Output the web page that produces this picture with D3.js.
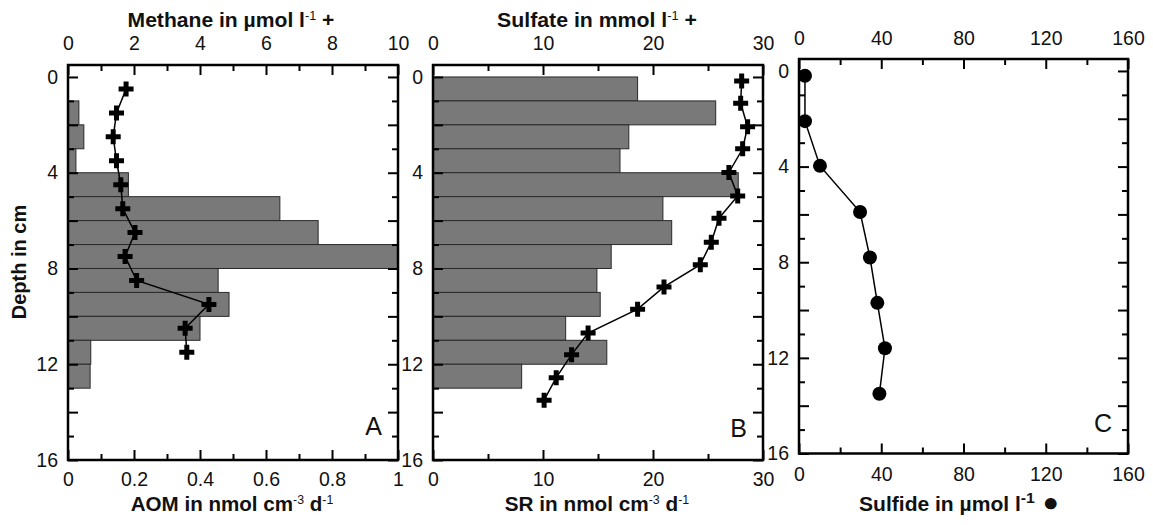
<!DOCTYPE html>
<html>
<head>
<meta charset="utf-8">
<script src="https://cdn.jsdelivr.net/npm/d3@7"></script>
<style>
  body { margin: 0; background: #fff; }
  svg { display: block; font-family: "Liberation Sans", Arial, sans-serif; }
  .tick text { font-size: 19.5px; fill: #111; }
  .tick line { stroke: #000; stroke-width: 2; }
  .title { font-size: 20px; font-weight: bold; fill: #111; }
  .letter { font-size: 25px; fill: #111; }
</style>
</head>
<body>
<div id="chart"></div>
<script>
'use strict';

// AOM rates, 1 cm slices (top of slice in cm)
var aomDepth = [1, 2, 3, 4, 5, 6, 7, 8, 9, 10, 11, 12];
var aomRate = [0.033, 0.048, 0.024, 0.183, 0.642, 0.758, 1.0, 0.455, 0.488, 0.40, 0.069, 0.067];

// methane profile
var methaneDepth = [0.5, 1.5, 2.5, 3.5, 4.5, 5.5, 6.5, 7.5, 8.5, 9.5, 10.5, 11.5];
var methane = [1.76, 1.47, 1.37, 1.47, 1.60, 1.66, 2.03, 1.73, 2.08, 4.27, 3.55, 3.60];

// sulfate reduction rates
var srDepth = [0, 1, 2, 3, 4, 5, 6, 7, 8, 9, 10, 11, 12];
var srRate = [18.6, 25.7, 17.8, 17.0, 27.75, 20.9, 21.7, 16.2, 14.9, 15.2, 12.06, 15.8, 8.06];

// sulfate profile
var sulfateDepth = [0.17, 1.1, 2.08, 3.0, 3.99, 4.97, 5.9, 6.9, 7.84, 8.77, 9.7, 10.7, 11.6, 12.56, 13.5];
var sulfate = [28.06, 27.97, 28.6, 28.15, 26.9, 27.7, 26.0, 25.3, 24.3, 21.0, 18.6, 14.1, 12.6, 11.2, 10.1];

// sulfide profile
var sulfideDepth = [0.2, 2.1, 3.97, 5.9, 7.8, 9.7, 11.6, 13.5];
var sulfide = [2.9, 2.9, 10.2, 29.7, 34.5, 38.1, 41.8, 39.1];

var W = 1153, H = 525;
var svg = d3.select('#chart').append('svg').attr('width', W).attr('height', H);

function isMult(d, s) { return Math.abs(d / s - Math.round(d / s)) < 1e-6; }

function addAxis(g, orient, scale, step, major, label, pad, fmt, showLabels) {
	var dom = scale.domain();
	var n = Math.round(dom[1] / step);
	var vals = d3.range(0, n + 1).map(function(i){ return +(i * step).toFixed(6); });
	var axis = d3[orient](scale)
		.tickValues(vals)
		.tickSizeOuter(0)
		.tickSizeInner(-10)
		.tickPadding(pad)
		.tickFormat(function(d){ return showLabels && isMult(d, label) ? fmt(d) : ''; });
	g.call(axis);
	g.select('.domain').remove();
	var attr = (orient === 'axisLeft' || orient === 'axisRight') ? 'x2' : 'y2';
	var sign = (orient === 'axisLeft' || orient === 'axisTop') ? 1 : -1;
	g.selectAll('.tick line').attr(attr, function(d){ return sign * (isMult(d, major) ? 10 : 6); });
}

// axis title, stretched sideways to the width it has in the figure
function title(cx, y, width, parts, big) {
	var g = svg.append('g');
	var t = g.append('text').attr('class', 'title').attr('text-anchor', 'middle');
	parts.forEach(function(p){
		var s = t.append('tspan').text(p.t);
		if (p.sup) {
			s.attr('dy', big ? -8 : -7).style('font-size', big ? '15px' : '12px').style('font-weight', big ? 'bold' : 'normal');
		} else if (p.down) {
			s.attr('dy', big ? 8 : 7);
		}
		if (p.size) s.style('font-size', p.size);
	});
	var w = t.node().getBBox().width;
	g.attr('transform', 'translate(' + cx + ',' + y + ') scale(' + (width / w) + ',1)');
}

function panel(cfg) {
	var x0 = cfg.left, x1 = cfg.right, y0 = cfg.top, y1 = cfg.bottom;
	var y = d3.scaleLinear().domain([-0.5, 16]).range([y0, y1]);
	var xb = d3.scaleLinear().domain(cfg.bottomDomain).range([x0, x1]);
	var xt = d3.scaleLinear().domain(cfg.topDomain).range([x0, x1]);
	var g = svg.append('g');

	if (cfg.bars) {
		g.selectAll('rect.bar').data(cfg.bars.depth)
			.enter().append('rect')
			.attr('class', 'bar')
			.attr('x', xb(0))
			.attr('y', function(d){ return y(d); })
			.attr('width', function(d, i){ return xb(cfg.bars.rate[i]) - xb(0); })
			.attr('height', function(d){ return y(d + 1) - y(d); })
			.attr('fill', '#797979')
			.attr('stroke', '#2a2a2a')
			.attr('stroke-width', 1);
	}

	var pts = cfg.profile.depth.map(function(d, i){ return [cfg.profile.xScale === 'bottom' ? xb(cfg.profile.value[i]) : xt(cfg.profile.value[i]), y(d)]; });
	g.append('path')
		.attr('d', d3.line()(pts))
		.attr('fill', 'none')
		.attr('stroke', '#000')
		.attr('stroke-width', 1.5);

	if (cfg.profile.symbol === 'circle') {
		g.selectAll('circle.pt').data(pts).enter().append('circle')
			.attr('class', 'pt')
			.attr('cx', function(d){ return d[0]; })
			.attr('cy', function(d){ return d[1]; })
			.attr('r', 7)
			.attr('fill', '#000');
	} else {
		g.selectAll('path.pt').data(pts).enter().append('path')
			.attr('class', 'pt')
			.attr('d', d3.symbol().type(d3.symbolCross).size(125))
			.attr('transform', function(d){ return 'translate(' + d[0] + ',' + d[1] + ')'; })
			.attr('fill', '#000');
	}

	addAxis(g.append('g').attr('transform', 'translate(0,' + y1 + ')'), 'axisBottom', xb,
		cfg.bottomStep, cfg.bottomMajor, cfg.bottomLabel, cfg.bottomPad, cfg.bottomFmt || String, true);
	addAxis(g.append('g').attr('transform', 'translate(0,' + y0 + ')'), 'axisTop', xt,
		cfg.topStep, cfg.topMajor, cfg.topLabel, cfg.topPad, String, true);
	addAxis(g.append('g').attr('transform', 'translate(' + x0 + ',0)'), 'axisLeft', y,
		1, 2, 4, 10, String, true);
	addAxis(g.append('g').attr('transform', 'translate(' + x1 + ',0)'), 'axisRight', y,
		1, 2, 4, 10, String, false);

	g.append('rect')
		.attr('x', x0).attr('y', y0)
		.attr('width', x1 - x0).attr('height', y1 - y0)
		.attr('fill', 'none')
		.attr('stroke', '#000')
		.attr('stroke-width', 2.5);

	svg.append('text').attr('class', 'letter')
		.attr('x', x1 - 16).attr('y', cfg.letterY)
		.attr('text-anchor', 'end')
		.text(cfg.letter);
}

panel({
	left: 68, right: 398, top: 65, bottom: 460,
	bottomDomain: [0, 1], bottomStep: 0.1, bottomMajor: 0.2, bottomLabel: 0.2, bottomPad: 12,
	bottomFmt: function(d){ return String(+d.toFixed(1)); },
	topDomain: [0, 10], topStep: 1, topMajor: 2, topLabel: 2, topPad: 15,
	bars: { depth: aomDepth, rate: aomRate },
	profile: { depth: methaneDepth, value: methane, xScale: 'top', symbol: 'cross' },
	letter: 'A', letterY: 435
});

panel({
	left: 433, right: 763, top: 65, bottom: 460,
	bottomDomain: [0, 30], bottomStep: 5, bottomMajor: 10, bottomLabel: 10, bottomPad: 12,
	topDomain: [0, 30], topStep: 5, topMajor: 10, topLabel: 10, topPad: 15,
	bars: { depth: srDepth, rate: srRate },
	profile: { depth: sulfateDepth, value: sulfate, xScale: 'top', symbol: 'cross' },
	letter: 'B', letterY: 437
});

panel({
	left: 799, right: 1128, top: 59, bottom: 453.5,
	bottomDomain: [0, 160], bottomStep: 20, bottomMajor: 40, bottomLabel: 40, bottomPad: 14,
	topDomain: [0, 160], topStep: 20, topMajor: 40, topLabel: 40, topPad: 14,
	profile: { depth: sulfideDepth, value: sulfide, xScale: 'bottom', symbol: 'circle' },
	letter: 'C', letterY: 432
});

title(231, 27, 207, [{t: 'Methane in µmol l'}, {t: '-1', sup: true}, {t: ' +', down: true}]);
title(597, 27, 200, [{t: 'Sulfate in mmol l'}, {t: '-1', sup: true}, {t: ' +', down: true}]);
title(232, 511, 203, [{t: 'AOM in nmol cm'}, {t: '-3', sup: true}, {t: ' d', down: true}, {t: '-1', sup: true}]);
title(597, 511, 185, [{t: 'SR in nmol cm'}, {t: '-3', sup: true}, {t: ' d', down: true}, {t: '-1', sup: true}]);
title(959, 511, 200, [{t: 'Sulfide in µmol l'}, {t: '-1', sup: true}, {t: ' ●', down: true, size: '26px'}], true);

svg.append('text').attr('class', 'title')
	.attr('transform', 'translate(26,262) rotate(-90)')
	.attr('text-anchor', 'middle')
	.text('Depth in cm');
</script>
</body>
</html>
